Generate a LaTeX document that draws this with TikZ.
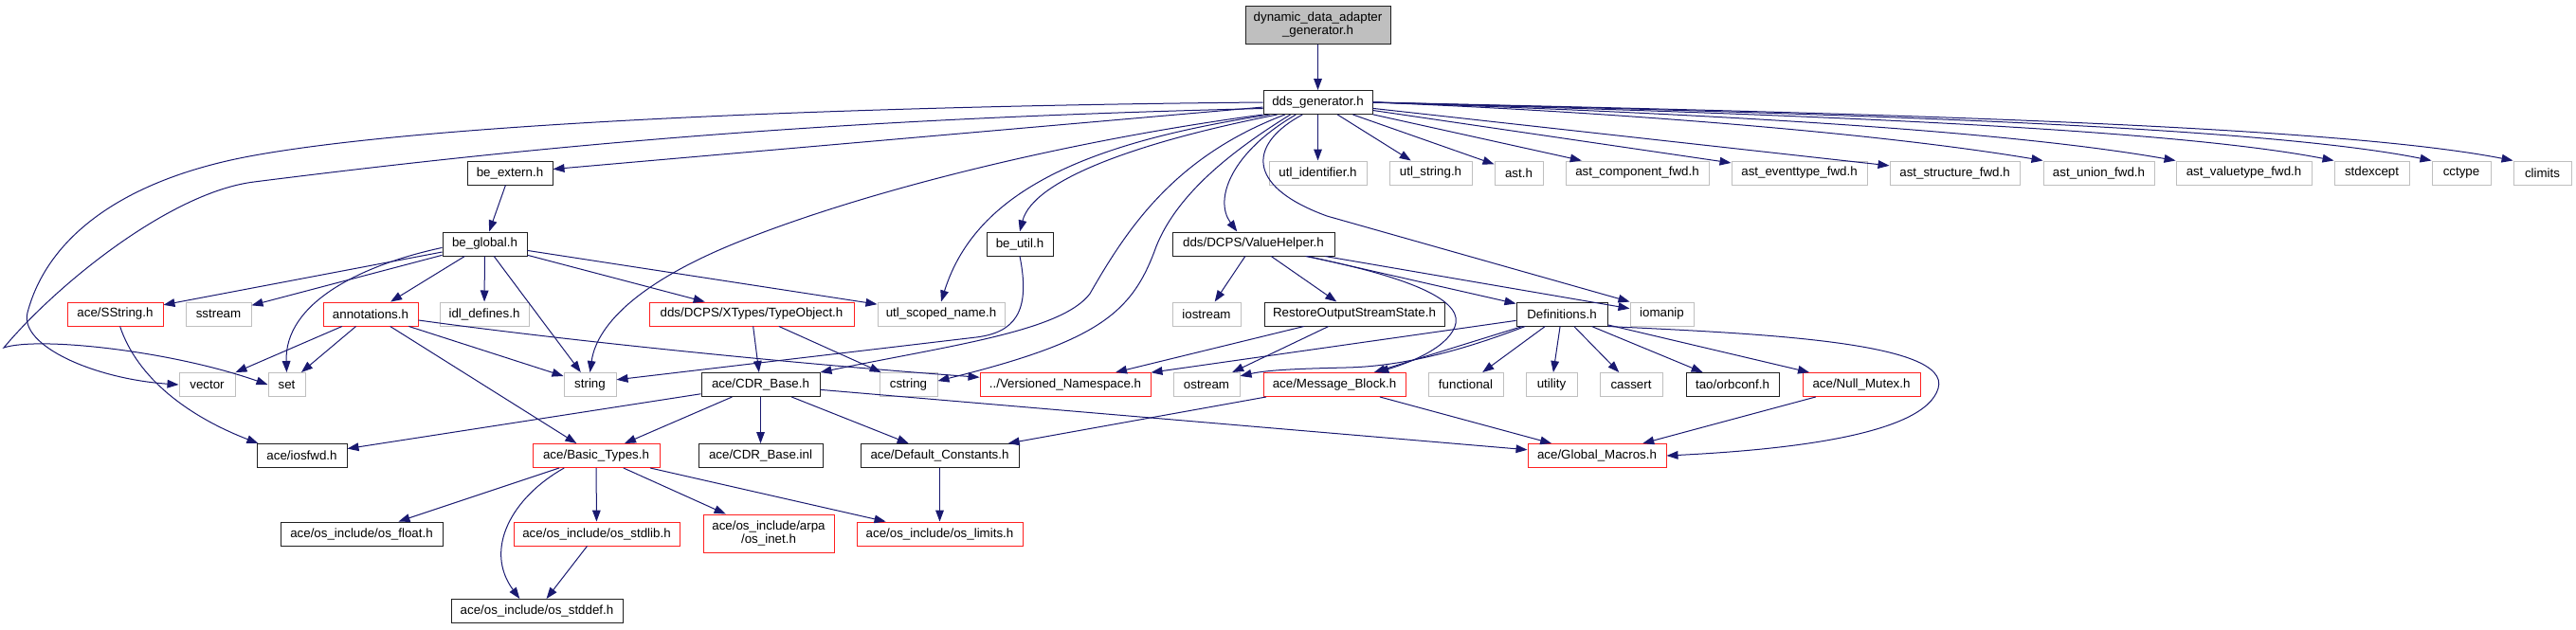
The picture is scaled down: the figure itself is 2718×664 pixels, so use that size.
\documentclass[tikz,border=0pt]{standalone}
\usepackage{fontspec}
\setmainfont{Liberation Sans}
\usetikzlibrary{arrows.meta,calc}
\definecolor{edgeblue}{HTML}{191970}
\definecolor{graybd}{HTML}{BFBFBF}
\definecolor{topfill}{HTML}{BFBFBF}
\definecolor{redbd}{HTML}{FF2020}
\definecolor{blkbd}{HTML}{202020}
\begin{document}
\begin{tikzpicture}[x=0.75pt,y=-0.75pt,
  nb/.style={rectangle, inner sep=0pt, minimum height=18.75pt, font=\fontsize{10}{10.5}\selectfont, align=center, fill=white, text=black},
  bw/.style={minimum width=#1*0.75pt},
  blkbox/.style={nb, draw=blkbd, line width=0.75pt},
  redbox/.style={nb, draw=redbd, line width=0.7pt},
  graybox/.style={nb, draw=graybd, line width=0.75pt},
  topbox/.style={nb, draw=blkbd, fill=topfill, line width=0.75pt, minimum height=30pt},
  conn/.style={draw=edgeblue, line width=0.75pt, -{Triangle[length=9pt,width=6.5pt]}}
]
\useasboundingbox (0,0) rectangle (2718,664);
% row 0-1
\node[topbox, bw=153] (top) at (1390.5,26) {dynamic\_data\_adapter\\\_generator.h};
\node[blkbox, bw=115] (dds) at (1390.5,108) {dds\_generator.h};
% row 2
\node[blkbox, bw=90] (beextern) at (538,182.5) {be\_extern.h};
\node[graybox, bw=103] (utlid) at (1390.5,182.5) {utl\_identifier.h};
\node[graybox, bw=87] (utlstr) at (1509.5,182.5) {utl\_string.h};
\node[graybox, bw=51] (ast) at (1602.5,182.5) {ast.h};
\node[graybox, bw=151] (astcomp) at (1727.5,182.5) {ast\_component\_fwd.h};
\node[graybox, bw=143] (astevt) at (1898.5,182.5) {ast\_eventtype\_fwd.h};
\node[graybox, bw=137] (aststruct) at (2062.5,182.5) {ast\_structure\_fwd.h};
\node[graybox, bw=117] (astunion) at (2214.5,182.5) {ast\_union\_fwd.h};
\node[graybox, bw=143] (astval) at (2367.5,182.5) {ast\_valuetype\_fwd.h};
\node[graybox, bw=79] (stdexcept) at (2502.5,182.5) {stdexcept};
\node[graybox, bw=62] (cctype) at (2597,182.5) {cctype};
\node[graybox, bw=61] (climits) at (2682.5,182.5) {climits};
% row 3
\node[blkbox, bw=89] (beglobal) at (511.5,257.5) {be\_global.h};
\node[blkbox, bw=70] (beutil) at (1076,257.5) {be\_util.h};
\node[blkbox, bw=171] (vh) at (1322.5,257.5) {dds/DCPS/ValueHelper.h};
% row 4
\node[redbox, bw=101] (sstring) at (121.5,331.5) {ace/SString.h};
\node[graybox, bw=69] (sstream) at (230.5,331.5) {sstream};
\node[redbox, bw=100] (annot) at (391,331.5) {annotations.h};
\node[graybox, bw=94] (idldef) at (511,331.5) {idl\_defines.h};
\node[redbox, bw=216] (typeobj) at (793,331.5) {dds/DCPS/XTypes/TypeObject.h};
\node[graybox, bw=134] (utlscoped) at (993,331.5) {utl\_scoped\_name.h};
\node[graybox, bw=72] (iostream) at (1273,331.5) {iostream};
\node[blkbox, bw=190] (restore) at (1429,331.5) {RestoreOutputStreamState.h};
\node[blkbox, bw=96] (defs) at (1648,331.5) {Definitions.h};
\node[graybox, bw=67] (iomanip) at (1753.5,331.5) {iomanip};
% row 5
\node[graybox, bw=59] (vector) at (218.5,406) {vector};
\node[graybox, bw=39] (set) at (302.5,406) {set};
\node[graybox, bw=55] (string) at (622.5,406) {string};
\node[blkbox, bw=125] (cdr) at (802.5,406) {ace/CDR\_Base.h};
\node[graybox, bw=61] (cstring) at (958.5,406) {cstring};
\node[redbox, bw=180] (versioned) at (1124,406) {../Versioned\_Namespace.h};
\node[graybox, bw=70] (ostream) at (1273,406) {ostream};
\node[redbox, bw=150] (mb) at (1408,406) {ace/Message\_Block.h};
\node[graybox, bw=79] (functional) at (1546.5,406) {functional};
\node[graybox, bw=54] (utility) at (1637,406) {utility};
\node[graybox, bw=66] (cassert) at (1721,406) {cassert};
\node[blkbox, bw=98] (orbconf) at (1828,406) {tao/orbconf.h};
\node[redbox, bw=124] (nullmutex) at (1964,406) {ace/Null\_Mutex.h};
% row 6
\node[blkbox, bw=95] (iosfwd) at (318.5,481) {ace/iosfwd.h};
\node[redbox, bw=134] (basic) at (629,481) {ace/Basic\_Types.h};
\node[blkbox, bw=131] (cdrinl) at (802.5,481) {ace/CDR\_Base.inl};
\node[blkbox, bw=167] (defconst) at (991.5,481) {ace/Default\_Constants.h};
\node[redbox, bw=146] (gmacros) at (1685,481) {ace/Global\_Macros.h};
% row 7
\node[blkbox, bw=171] (osfloat) at (381.5,563.5) {ace/os\_include/os\_float.h};
\node[redbox, bw=175] (osstdlib) at (629.5,563.5) {ace/os\_include/os\_stdlib.h};
\node[redbox, bw=138, minimum height=30pt] (osinet) at (811,563) {ace/os\_include/arpa\\/os\_inet.h};
\node[redbox, bw=175] (oslimits) at (991.5,563.5) {ace/os\_include/os\_limits.h};
% row 8
\node[blkbox, bw=181] (osstddef) at (566.5,645) {ace/os\_include/os\_stddef.h};

% ---- edges from top / dds_generator
\draw[conn] (top) -- (dds);
\draw[conn] (dds) -- (beextern);
\draw[conn] (dds) -- (utlid);
\draw[conn] (dds) -- (utlstr);
\draw[conn] (dds) -- (ast);
\draw[conn] (dds) -- (astcomp);
\draw[conn] (dds) -- (astevt);
\draw[conn] (dds) -- (aststruct);
\draw[conn] (dds.east) .. controls (1700,118) and (1980,140) .. (astunion.north west);
\draw[conn] (dds.east) .. controls (1750,118) and (2100,135) .. (astval.north west);
\draw[conn] (dds.east) .. controls (1800,118) and (2270,132) .. (stdexcept.north west);
\draw[conn] (dds.east) .. controls (1850,118) and (2370,130) .. (cctype.north west);
\draw[conn] (dds.east) .. controls (1900,118) and (2450,130) .. (climits.north west);
\draw[conn] (dds.west) .. controls (900,112) and (450,130) .. (263,165)
   .. controls (130,190) and (50,250) .. (29,330)
   .. controls (20,365) and (100,400) .. (vector.west);
\draw[conn] ($(dds.west)!0.5!(dds.south west)$) .. controls (900,125) and (600,150) .. (268,192)
   .. controls (180,203) and (60,300) .. (4,367)
   .. controls (40,355) and (180,370) .. (set.west);
\draw[conn] (dds.south west) .. controls (1150,145) and (930,195) .. (780,255)
   .. controls (680,295) and (630,340) .. (string.north);
\draw[conn] ($(dds.south west)!0.06!(dds.south east)$) .. controls (1150,150) and (1030,200) .. (utlscoped.north);
\draw[conn] ($(dds.south west)!0.13!(dds.south east)$) .. controls (1200,150) and (1090,190) .. (beutil.north);
\draw[conn] ($(dds.south west)!0.2!(dds.south east)$) .. controls (1240,165) and (1190,240) .. (1150,310)
   .. controls (1120,350) and (1000,365) .. (cdr.north east);
\draw[conn] ($(dds.south west)!0.25!(dds.south east)$) .. controls (1290,165) and (1240,210) .. (1220,260)
   .. controls (1195,330) and (1160,360) .. ($(cstring.east)!0.3!(cstring.north east)$);
\draw[conn] ($(dds.south west)!0.3!(dds.south east)$) .. controls (1300,160) and (1280,210) .. ($(vh.north west)!0.4!(vh.north east)$);
\draw[conn] ($(dds.south west)!0.36!(dds.south east)$) .. controls (1320,150) and (1310,195) .. (1400,228) -- (iomanip.north west);

% ---- be_extern, be_global
\draw[conn] (beextern) -- (beglobal);
\draw[conn] (beglobal) -- (sstring);
\draw[conn] (beglobal) -- (sstream);
\draw[conn] (beglobal) -- (annot);
\draw[conn] (beglobal) -- (idldef);
\draw[conn] (beglobal) -- (string);
\draw[conn] ($(beglobal.west)!0.3!(beglobal.south west)$) .. controls (380,280) and (300,320) .. (set.north);
\draw[conn] (beglobal) -- (typeobj);
\draw[conn] (beglobal) -- (utlscoped);

% ---- be_util
\draw[conn] (beutil.south) .. controls (1088,330) and (1070,351) .. (1030,356) -- ($(string.east)!0.4!(string.north east)$);

% ---- ValueHelper
\draw[conn] (vh) -- (iostream);
\draw[conn] (vh) -- (restore);
\draw[conn] (vh) -- (defs);
\draw[conn] (vh) -- (iomanip);
\draw[conn] ($(vh.south)!0.64!(vh.south east)$) .. controls (1500,295) and (1545,320) .. (1535,345)
   .. controls (1525,370) and (1480,385) .. ($(mb.north west)!0.8!(mb.north east)$);

% ---- RestoreOutputStreamState
\draw[conn] (restore) -- (versioned);
\draw[conn] (restore) -- (ostream);

% ---- Definitions
\draw[conn] (defs) -- (versioned);
\draw[conn] (defs) -- (mb);
\draw[conn] ($(defs.south west)!0.1!(defs.south east)$) .. controls (1530,375) and (1470,387) .. (1420,388)
   .. controls (1380,389) and (1340,390) .. ($(ostream.north east)!0.3!(ostream.east)$);
\draw[conn] (defs) -- (functional);
\draw[conn] (defs) -- (utility);
\draw[conn] (defs) -- (cassert);
\draw[conn] (defs) -- (orbconf);
\draw[conn] (defs) -- (nullmutex);
\draw[conn] (defs.south east) .. controls (1850,352) and (2060,360) .. (2045,410)
   .. controls (2030,460) and (1880,475) .. (gmacros.east);

% ---- annotations
\draw[conn] (annot) -- (vector);
\draw[conn] (annot) -- (set);
\draw[conn] (annot) -- (string);
\draw[conn] ($(annot.east)!0.5!(annot.south east)$) .. controls (600,360) and (850,385) .. ($(versioned.west)!0.6!(versioned.north west)$);
\draw[conn] (annot) -- (basic);

% ---- SString, TypeObject
\draw[conn] ($(sstring.south west)!0.55!(sstring.south east)$) .. controls (145,400) and (200,440) .. ($(iosfwd.north west)!0.02!(iosfwd.north east)$);
\draw[conn] (typeobj) -- (cdr);
\draw[conn] (typeobj) -- (cstring);

% ---- CDR_Base
\draw[conn] (cdr) -- (iosfwd);
\draw[conn] (cdr) -- (basic);
\draw[conn] (cdr) -- (cdrinl);
\draw[conn] (cdr) -- (defconst);
\draw[conn] (cdr) -- (gmacros);

% ---- Message_Block, Null_Mutex
\draw[conn] (mb) -- (defconst);
\draw[conn] (mb) -- (gmacros);
\draw[conn] (nullmutex) -- (gmacros);

% ---- Basic_Types and below
\draw[conn] (basic) -- (osfloat);
\draw[conn] (basic) -- (osstdlib);
\draw[conn] (basic) -- (osinet);
\draw[conn] (basic) -- (oslimits);
\draw[conn] ($(basic.south west)!0.25!(basic.south east)$) .. controls (540,525) and (510,580) .. ($(osstddef.north west)!0.4!(osstddef.north east)$);
\draw[conn] (osstdlib) -- (osstddef);
\draw[conn] (defconst) -- (oslimits);
\end{tikzpicture}
\end{document}
